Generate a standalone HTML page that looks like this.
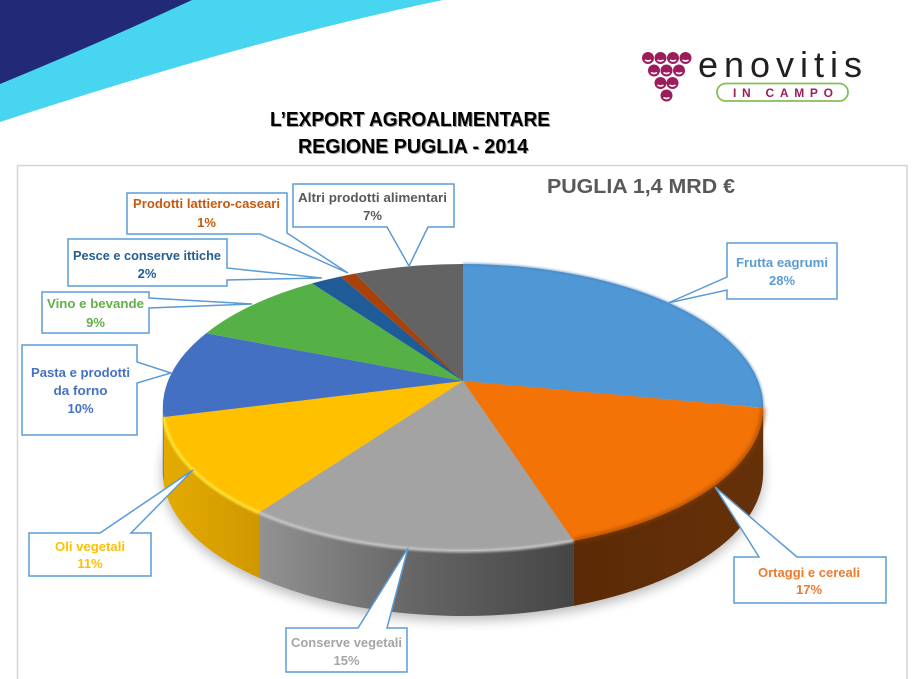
<!DOCTYPE html>
<html>
<head>
<meta charset="utf-8">
<style>
html,body{margin:0;padding:0;background:#fff;}
svg{display:block;}
</style>
</head>
<body>
<svg xmlns="http://www.w3.org/2000/svg" width="918" height="679" viewBox="0 0 918 679" font-family="'Liberation Sans', Arial, sans-serif">
  <defs>
    <filter id="blur6" x="-20%" y="-20%" width="140%" height="140%"><feGaussianBlur stdDeviation="6"/></filter>
    <filter id="blur1" x="-10%" y="-10%" width="120%" height="120%"><feGaussianBlur stdDeviation="1"/></filter>
    <filter id="blur2" x="-10%" y="-10%" width="120%" height="120%"><feGaussianBlur stdDeviation="2"/></filter>
    <linearGradient id="gCons" x1="259" y1="0" x2="574" y2="0" gradientUnits="userSpaceOnUse">
      <stop offset="0" stop-color="#929292"/>
      <stop offset="0.5" stop-color="#656565"/>
      <stop offset="1" stop-color="#454545"/>
    </linearGradient>
    <linearGradient id="gOli" x1="163" y1="0" x2="259" y2="0" gradientUnits="userSpaceOnUse">
      <stop offset="0" stop-color="#e4ab00"/>
      <stop offset="1" stop-color="#d09800"/>
    </linearGradient>
    <linearGradient id="gOrt" x1="574" y1="0" x2="763" y2="0" gradientUnits="userSpaceOnUse">
      <stop offset="0" stop-color="#5b2a06"/>
      <stop offset="1" stop-color="#653109"/>
    </linearGradient>
  </defs>

  <!-- banner -->
  <path d="M0,0 H443 Q250,40 0,122 Z" fill="#48d5ef"/>
  <path d="M0,0 H192 Q95,45 0,84 Z" fill="#222a78"/>

  <!-- logo -->
  <g fill="#9c1d5c">
    <circle cx="648" cy="58" r="6"/><circle cx="660.5" cy="58" r="6"/><circle cx="673" cy="58" r="6"/><circle cx="685.5" cy="58" r="6"/>
    <circle cx="654" cy="70.5" r="6"/><circle cx="666.5" cy="70.5" r="6"/><circle cx="679" cy="70.5" r="6"/>
    <circle cx="660.5" cy="83" r="6"/><circle cx="672.5" cy="83" r="6"/>
    <circle cx="666.5" cy="95.5" r="6"/>
  </g>
  <g stroke="#fff" stroke-width="1.6" fill="none">
    <path d="M645,60 q3,2 6,0"/><path d="M657.5,60 q3,2 6,0"/><path d="M670,60 q3,2 6,0"/><path d="M682.5,60 q3,2 6,0"/>
    <path d="M651,72.5 q3,2 6,0"/><path d="M663.5,72.5 q3,2 6,0"/><path d="M676,72.5 q3,2 6,0"/>
    <path d="M657.5,85 q3,2 6,0"/><path d="M669.5,85 q3,2 6,0"/>
    <path d="M663.5,97.5 q3,2 6,0"/>
  </g>
  <text x="698" y="77" font-size="36" fill="#231f20" textLength="164" lengthAdjust="spacing">enovitis</text>
  <rect x="717" y="83.5" width="131" height="17.5" rx="8.7" ry="8.7" fill="#fff" stroke="#86bf55" stroke-width="1.8"/>
  <text x="733" y="97" font-size="12" font-weight="bold" fill="#9c1d5c" textLength="100" lengthAdjust="spacing">IN CAMPO</text>

  <!-- main title -->
  <g font-size="20" font-weight="bold" text-anchor="start">
    <text x="271" y="127" fill="#9a9a9a" textLength="280" lengthAdjust="spacingAndGlyphs">L’EXPORT AGROALIMENTARE</text>
    <text x="270" y="126" fill="#000" textLength="280" lengthAdjust="spacingAndGlyphs">L’EXPORT AGROALIMENTARE</text>
    <text x="299" y="154" fill="#9a9a9a" textLength="230" lengthAdjust="spacingAndGlyphs">REGIONE PUGLIA  - 2014</text>
    <text x="298" y="153" fill="#000" textLength="230" lengthAdjust="spacingAndGlyphs">REGIONE PUGLIA  - 2014</text>
  </g>

  <!-- chart frame -->
  <path d="M17.5,679 V165.5 H907 V679" fill="none" stroke="#d6d6d6" stroke-width="1.5"/>

  <!-- chart title -->
  <text x="547" y="193" font-size="20" font-weight="bold" fill="#595959" textLength="188" lengthAdjust="spacingAndGlyphs">PUGLIA  1,4 MRD €</text>

  <!-- pie shadow -->
  <path d="M162.8,477 A300.2,143.5 0 0 0 763.2,477 L763.2,470 A300.2,143.5 0 0 0 162.8,470 Z" fill="#000" opacity="0.28" filter="url(#blur6)"/>

  <!-- sides -->
  <path d="M763.2,407.5 A300.2,143.5 0 0 1 573.6,540.9 L573.6,605.9 A300.2,143.5 0 0 0 763.2,472.5 Z" fill="url(#gOrt)"/>
  <path d="M573.6,540.9 A300.2,143.5 0 0 1 259,512.8 L259,577.8 A300.2,143.5 0 0 0 573.6,605.9 Z" fill="url(#gCons)"/>
  <path d="M259,512.8 A300.2,143.5 0 0 1 163.5,417.1 L163.5,482.1 A300.2,143.5 0 0 0 259,577.8 Z" fill="url(#gOli)"/>
  <path d="M163.5,417.1 A300.2,143.5 0 0 1 162.8,407.5 L162.8,472.5 A300.2,143.5 0 0 0 163.5,482.1 Z" fill="#3a60a8"/>

  <!-- top faces -->
  <path d="M463,381 L463,264 A300.2,143.5 0 0 1 763.2,407.9 Z" fill="#5097d5"/>
  <path d="M463,381 L763.2,407.9 A300.2,143.5 0 0 1 573.6,540.9 Z" fill="#f47306"/>
  <path d="M463,381 L573.6,540.9 A300.2,143.5 0 0 1 259,512.8 Z" fill="#a3a3a3"/>
  <path d="M463,381 L259,512.8 A300.2,143.5 0 0 1 163.5,417.1 Z" fill="#ffc000"/>
  <path d="M463,381 L163.5,417.1 A300.2,143.5 0 0 1 206.2,333.2 Z" fill="#4470c4"/>
  <path d="M463,381 L206.2,333.2 A300.2,143.5 0 0 1 312,283.4 Z" fill="#55b046"/>
  <path d="M463,381 L312,283.4 A300.2,143.5 0 0 1 340.7,276.5 Z" fill="#1f5b96"/>
  <path d="M463,381 L340.7,276.5 A300.2,143.5 0 0 1 355.4,273.5 Z" fill="#a8420a"/>
  <path d="M463,381 L355.4,273.5 A300.2,143.5 0 0 1 463,264 Z" fill="#636363"/>

  <!-- rim highlights -->
  <path d="M763.2,407.5 A300.2,143.5 0 0 1 573.6,540.9" fill="none" stroke="#8a3d05" stroke-width="4" opacity="0.7" filter="url(#blur2)"/>
  <path d="M573.6,540.9 A300.2,143.5 0 0 1 259,512.8" fill="none" stroke="#cfcfcf" stroke-width="3" opacity="0.85" filter="url(#blur1)"/>
  <path d="M259,512.8 A300.2,143.5 0 0 1 163.5,417.1" fill="none" stroke="#ffe53a" stroke-width="3" filter="url(#blur1)"/>
  <path d="M463,264 A300.2,143.5 0 0 1 763.2,407.5" fill="none" stroke="#3c7ab3" stroke-width="2" opacity="0.6" filter="url(#blur1)"/>

  <!-- callouts -->
  <g fill="#fff" stroke="#5b9bd5" stroke-width="1.5" stroke-linejoin="miter">
    <path d="M727,243 H837 V299 H727 V290 L668,303 L727,277 Z"/>
    <path d="M734,557 H759 L715,487 L797,557 H886 V603 H734 Z"/>
    <path d="M286,628 H358 L408,548 L387,628 H407 V672 H286 Z"/>
    <path d="M29,533 H100 L193,470 L131,533 H151 V576 H29 Z"/>
    <path d="M22,345 H137 V362 L171,373 L137,383 V435 H22 Z"/>
    <path d="M42,292 H149 V298 L252,304 L149,308 V333 H42 Z"/>
    <path d="M68,239 H227 V268 L322,278 L227,280 V286 H68 Z"/>
    <path d="M127,193 H287 V233 L348,273 L260,234 H127 Z"/>
    <path d="M293,184 H454 V227 H428 L409,266 L387,227 H293 Z"/>
  </g>

  <g font-size="13" font-weight="bold" text-anchor="middle">
    <g fill="#5b9bd5">
      <text x="782" y="267" textLength="92" lengthAdjust="spacingAndGlyphs">Frutta eagrumi</text>
      <text x="782" y="285">28%</text>
    </g>
    <g fill="#ee7a2c">
      <text x="809" y="577" textLength="102" lengthAdjust="spacingAndGlyphs">Ortaggi e cereali</text>
      <text x="809" y="594">17%</text>
    </g>
    <g fill="#a5a5a5">
      <text x="346.5" y="647" textLength="111" lengthAdjust="spacingAndGlyphs">Conserve vegetali</text>
      <text x="346.5" y="665">15%</text>
    </g>
    <g fill="#ffc000">
      <text x="90" y="551" textLength="70" lengthAdjust="spacingAndGlyphs">Oli vegetali</text>
      <text x="90" y="568">11%</text>
    </g>
    <g fill="#4472c4">
      <text x="80.5" y="377" textLength="99" lengthAdjust="spacingAndGlyphs">Pasta e prodotti</text>
      <text x="80.5" y="395" textLength="54" lengthAdjust="spacingAndGlyphs">da forno</text>
      <text x="80.5" y="413">10%</text>
    </g>
    <g fill="#62b047">
      <text x="95.5" y="308" textLength="97" lengthAdjust="spacingAndGlyphs">Vino e bevande</text>
      <text x="95.5" y="327">9%</text>
    </g>
    <g fill="#255e91">
      <text x="147" y="260" textLength="148" lengthAdjust="spacingAndGlyphs">Pesce e conserve ittiche</text>
      <text x="147" y="278">2%</text>
    </g>
    <g fill="#c55a11">
      <text x="206.5" y="208" textLength="147" lengthAdjust="spacingAndGlyphs">Prodotti lattiero-caseari</text>
      <text x="206.5" y="227">1%</text>
    </g>
    <g fill="#595959">
      <text x="372.5" y="202" textLength="149" lengthAdjust="spacingAndGlyphs">Altri prodotti alimentari</text>
      <text x="372.5" y="220">7%</text>
    </g>
  </g>
</svg>
</body>
</html>
